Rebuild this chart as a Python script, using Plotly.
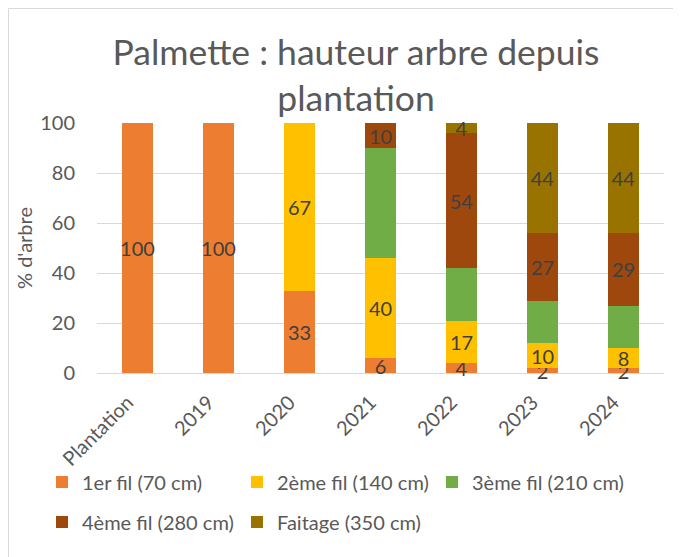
import plotly.graph_objects as go

categories = ["Plantation", "2019", "2020", "2021", "2022", "2023", "2024"]
fil1 = [100, 100, 33, 6, 4, 2, 2]
fil2 = [0, 0, 67, 40, 17, 10, 8]
fil3 = [0, 0, 0, 44, 21, 17, 17]
fil4 = [0, 0, 0, 10, 54, 27, 29]
faitage = [0, 0, 0, 0, 4, 44, 44]

series = [
    ("1er fil (70 cm)", fil1, "#ED7D31", True, "legend"),
    ("2ème fil (140 cm)", fil2, "#FFC000", True, "legend"),
    ("3ème fil (210 cm)", fil3, "#70AD47", False, "legend"),
    ("4ème fil (280 cm)", fil4, "#9E480E", True, "legend2"),
    ("Faitage (350 cm)", faitage, "#997300", True, "legend2"),
]

FONT = "Lato"
GRAY = "#595959"

fig = go.Figure()
for name, vals, color, labels, leg in series:
    fig.add_trace(go.Bar(
        x=categories, y=vals, name=name, legend=leg,
        marker=dict(color=color, line=dict(width=0)),
        text=[str(v) if (labels and v > 0) else "" for v in vals],
        textposition="inside", insidetextanchor="middle", textangle=0,
        textfont=dict(family=FONT, size=20, color="#404040"),
        constraintext="none", cliponaxis=False,
    ))

# page body adds an 8 px offset; figure coords = window coords - 8
OFF = 8
W, H = 681 - OFF, 557 - OFF
L, R, T, B = 97 - OFF, 681 - 664, 123 - OFF, 557 - 373
pw, ph = W - L - R, H - T - B

def px(x):  # window px -> paper x
    return (x - OFF - L) / pw

def py(y):  # window px -> paper y
    return (H - B - (y - OFF)) / ph

legend_common = dict(orientation="h", xref="paper", yref="paper",
                     xanchor="left", yanchor="middle",
                     entrywidth=150, entrywidthmode="pixels", itemwidth=30,
                     font=dict(size=20, color=GRAY), traceorder="normal",
                     bgcolor="rgba(0,0,0,0)")

fig.update_layout(
    width=W, height=H,
    barmode="stack", bargap=0.62,
    margin=dict(l=L, r=R, t=T, b=B),
    paper_bgcolor="white", plot_bgcolor="white",
    font=dict(family=FONT, color=GRAY, size=20),
    uniformtext=dict(minsize=20, mode="show"),
    title=dict(text="Palmette : hauteur arbre depuis<br>plantation",
               x=(356 - OFF) / W, xanchor="center", y=1 - 57 / H, yanchor="top",
               font=dict(family=FONT, size=35.5, color=GRAY)),
    xaxis=dict(tickangle=-45, tickfont=dict(size=20, color=GRAY),
               showgrid=False, showline=False, ticks="", automargin=False,
               ticklabelstandoff=13, ticklabelshift=-10),
    yaxis=dict(range=[0, 100], dtick=20, tickfont=dict(size=20, color=GRAY),
               gridcolor="#D9D9D9", gridwidth=1, zeroline=True,
               zerolinecolor="#D9D9D9", zerolinewidth=1, automargin=False,
               ticklabelstandoff=21,
               title=dict(text="% d'arbre", font=dict(size=20, color=GRAY), standoff=2)),
    legend=dict(x=px(42), y=py(482), **legend_common),
    legend2=dict(x=px(42), y=py(522), **legend_common),
    showlegend=True,
    shapes=[dict(type="rect", xref="paper", yref="paper",
                 x0=px(8.5), x1=px(720), y0=py(620), y1=py(8.5),
                 line=dict(color="#D9D9D9", width=1), layer="below")],
)

fig.write_html("out.html")
